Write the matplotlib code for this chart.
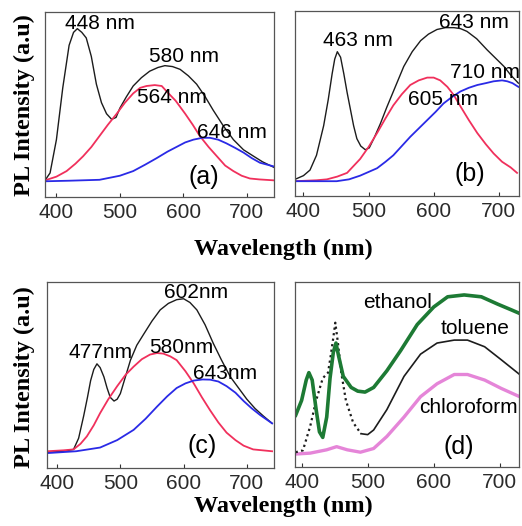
import matplotlib
matplotlib.use("Agg")
import matplotlib.pyplot as plt

# ---- data (wavelength in nm, intensity in a.u.) ----
a_black_wl = [382, 390, 400, 410, 420, 427, 433, 440, 447, 455, 463, 471, 479, 487, 494, 500, 510, 521, 534,
              547, 560, 571, 583, 595, 608, 621, 634, 647, 663, 679, 695, 711, 725, 743]
a_black = [0.09, 0.13, 0.31, 0.59, 0.82, 0.89, 0.91, 0.89, 0.86, 0.76, 0.61, 0.51, 0.45, 0.42, 0.43, 0.48, 0.54,
           0.60, 0.645, 0.68, 0.70, 0.71, 0.705, 0.69, 0.655, 0.61, 0.545, 0.47, 0.385, 0.31, 0.255, 0.22, 0.19, 0.16]
a_red_wl = [382, 400, 416, 430, 442, 455, 468, 481, 495, 508, 521, 532, 542, 555, 566, 574, 588, 603, 615, 626,
            640, 653, 666, 679, 692, 705, 720, 743]
a_red = [0.09, 0.11, 0.14, 0.18, 0.22, 0.27, 0.33, 0.39, 0.45, 0.51, 0.56, 0.59, 0.60, 0.605, 0.60, 0.57, 0.52,
         0.45, 0.39, 0.33, 0.27, 0.22, 0.17, 0.14, 0.115, 0.10, 0.095, 0.09]
a_blue_wl = [382, 420, 468, 500, 521, 540, 558, 575, 589, 603, 616, 630, 642, 655, 668, 682, 695, 708, 721, 743]
a_blue = [0.085, 0.088, 0.093, 0.115, 0.14, 0.175, 0.21, 0.245, 0.27, 0.295, 0.31, 0.32, 0.32, 0.31, 0.29,
          0.265, 0.24, 0.21, 0.185, 0.165]

b_black_wl = [387, 400, 410, 420, 431, 438, 444, 448, 452, 457, 462, 467, 472, 477, 482, 488, 495, 501, 508, 518,
              528, 541, 554, 567, 580, 592, 605, 618, 631, 641, 651, 666, 682, 695, 708, 718, 730]
b_black = [0.09, 0.11, 0.14, 0.22, 0.38, 0.52, 0.66, 0.74, 0.78, 0.75, 0.66, 0.56, 0.47, 0.38, 0.31, 0.27, 0.25,
           0.26, 0.31, 0.39, 0.48, 0.59, 0.70, 0.78, 0.84, 0.875, 0.90, 0.91, 0.91, 0.905, 0.89, 0.85, 0.79, 0.745,
           0.70, 0.655, 0.61]
b_red_wl = [387, 400, 420, 436, 452, 467, 487, 500, 513, 526, 538, 551, 564, 577, 590, 600, 610, 621, 631, 641,
            654, 667, 680, 692, 705, 718, 728]
b_red = [0.08, 0.082, 0.085, 0.09, 0.105, 0.125, 0.20, 0.265, 0.34, 0.42, 0.49, 0.55, 0.60, 0.625, 0.64, 0.64,
         0.625, 0.59, 0.545, 0.485, 0.41, 0.34, 0.28, 0.23, 0.185, 0.155, 0.125]
b_blue_wl = [387, 451, 470, 487, 500, 513, 526, 538, 551, 564, 577, 590, 603, 615, 628, 641, 654, 667, 680, 692,
             705, 713, 721, 730]
b_blue = [0.08, 0.08, 0.09, 0.11, 0.13, 0.15, 0.185, 0.22, 0.27, 0.32, 0.365, 0.41, 0.455, 0.50, 0.535, 0.565,
          0.585, 0.60, 0.61, 0.62, 0.625, 0.62, 0.61, 0.59]

c_black_wl = [384, 410, 426, 434, 442, 448, 453, 458, 463, 468, 474, 479, 484, 490, 495, 500, 508, 516, 526, 537,
              550, 563, 576, 589, 600, 610, 621, 634, 647, 660, 674, 687, 700, 713, 726, 740]
c_black = [0.084, 0.09, 0.10, 0.16, 0.28, 0.38, 0.47, 0.53, 0.56, 0.54, 0.49, 0.43, 0.38, 0.36, 0.37, 0.40, 0.49,
           0.58, 0.66, 0.72, 0.79, 0.85, 0.885, 0.905, 0.91, 0.89, 0.85, 0.77, 0.67, 0.58, 0.49, 0.43, 0.37, 0.32,
           0.28, 0.24]
c_red_wl = [384, 410, 426, 437, 447, 458, 468, 481, 495, 508, 521, 534, 547, 558, 568, 579, 589, 603, 616, 629,
            642, 655, 668, 682, 695, 710, 740]
c_red = [0.09, 0.095, 0.10, 0.13, 0.17, 0.23, 0.295, 0.37, 0.44, 0.50, 0.545, 0.585, 0.61, 0.618, 0.615, 0.60,
         0.58, 0.52, 0.455, 0.38, 0.31, 0.245, 0.19, 0.15, 0.12, 0.10, 0.09]
c_blue_wl = [384, 430, 468, 495, 521, 540, 558, 574, 589, 603, 616, 630, 642, 655, 668, 682, 695, 708, 721, 740]
c_blue = [0.08, 0.09, 0.11, 0.15, 0.205, 0.265, 0.33, 0.385, 0.43, 0.455, 0.47, 0.476, 0.475, 0.465, 0.44, 0.405,
          0.36, 0.32, 0.285, 0.24]

d_eth_wl = [391, 400, 407, 411, 416, 422, 427, 432, 438, 443, 448, 452, 456, 463, 475, 485, 496, 509, 529, 550,
            575, 600, 621, 646, 672, 697, 717, 730]
d_eth = [0.28, 0.36, 0.47, 0.51, 0.47, 0.31, 0.19, 0.16, 0.27, 0.48, 0.62, 0.67, 0.60, 0.49, 0.43, 0.41, 0.405,
         0.43, 0.52, 0.63, 0.77, 0.865, 0.92, 0.93, 0.92, 0.88, 0.85, 0.83]
d_tol_wl = [391, 402, 413, 422, 432, 440, 444, 448, 451, 455, 460, 467, 478, 490, 500, 509, 529, 555, 580, 605,
            631, 651, 677, 702, 730]
d_tol = [0.08, 0.09, 0.22, 0.36, 0.48, 0.51, 0.60, 0.70, 0.78, 0.67, 0.51, 0.36, 0.24, 0.18, 0.175, 0.20, 0.31,
         0.49, 0.61, 0.67, 0.686, 0.686, 0.65, 0.58, 0.50]
d_chl_wl = [391, 413, 438, 453, 469, 489, 509, 529, 555, 580, 605, 631, 651, 677, 702, 730]
d_chl = [0.07, 0.075, 0.093, 0.11, 0.093, 0.08, 0.10, 0.165, 0.27, 0.38, 0.45, 0.50, 0.50, 0.47, 0.425, 0.38]

BLACK = "#1c1c1c"
RED = "#f0305c"
BLUE = "#2a2ae6"
GREEN = "#1d7a34"
PINK = "#e585d8"

plt.rcParams['font.family'] = ['Liberation Sans', 'DejaVu Sans']

fig = plt.figure(figsize=(5.22, 5.26), dpi=100)
W, H = 522.0, 526.0


def make_ax(left, top, right, bottom, xlim):
    ax = fig.add_axes([left / W, 1 - bottom / H, (right - left) / W, (bottom - top) / H])
    ax.set_xlim(*xlim)
    ax.set_ylim(0, 1)
    ax.set_xticks([400, 500, 600, 700])
    ax.set_yticks([])
    ax.tick_params(axis='x', direction='in', length=3, width=0.8, labelsize=15, pad=4, colors='#333333')
    ax.tick_params(axis='x', labelcolor='#2a2a2a')
    for s in ax.spines.values():
        s.set_color('#555555')
        s.set_linewidth(0.9)
    return ax


ax_a = make_ax(45, 12, 274, 197, (382, 743))
ax_b = make_ax(295, 11, 519, 196, (387, 731))
ax_c = make_ax(47, 282, 274, 468, (384, 743))
ax_d = make_ax(295, 282, 519, 467, (390, 729))

# (a)
ax_a.plot(a_black_wl, a_black, color=BLACK, lw=1.0)
ax_a.plot(a_red_wl, a_red, color=RED, lw=1.3)
ax_a.plot(a_blue_wl, a_blue, color=BLUE, lw=1.3)
ax_a.text(468, 0.94, "448 nm", fontsize=15, ha='center', va='center')
ax_a.text(601, 0.76, "580 nm", fontsize=15, ha='center', va='center')
ax_a.text(582, 0.54, "564 nm", fontsize=15, ha='center', va='center')
ax_a.text(677, 0.35, "646 nm", fontsize=15, ha='center', va='center')
ax_a.text(633, 0.11, "(a)", fontsize=18, ha='center', va='center')

# (b)
ax_b.plot(b_black_wl, b_black, color=BLACK, lw=1.0)
ax_b.plot(b_red_wl, b_red, color=RED, lw=1.3)
ax_b.plot(b_blue_wl, b_blue, color=BLUE, lw=1.3)
ax_b.text(483, 0.84, "463 nm", fontsize=15, ha='center', va='center')
ax_b.text(662, 0.94, "643 nm", fontsize=15, ha='center', va='center')
ax_b.text(679, 0.67, "710 nm", fontsize=15, ha='center', va='center')
ax_b.text(615, 0.52, "605 nm", fontsize=15, ha='center', va='center')
ax_b.text(655, 0.12, "(b)", fontsize=18, ha='center', va='center')

# (c)
ax_c.plot(c_black_wl, c_black, color=BLACK, lw=1.0)
ax_c.plot(c_red_wl, c_red, color=RED, lw=1.3)
ax_c.plot(c_blue_wl, c_blue, color=BLUE, lw=1.3)
ax_c.text(620, 0.946, "602nm", fontsize=15, ha='center', va='center')
ax_c.text(468, 0.62, "477nm", fontsize=15, ha='center', va='center')
ax_c.text(596, 0.65, "580nm", fontsize=15, ha='center', va='center')
ax_c.text(665, 0.51, "643nm", fontsize=15, ha='center', va='center')
ax_c.text(630, 0.12, "(c)", fontsize=18, ha='center', va='center')

# (d) - toluene is dotted across the sharp peaks, solid afterwards
ax_d.plot(d_chl_wl, d_chl, color=PINK, lw=2.4)
ax_d.plot(d_tol_wl[:14], d_tol[:14], color=BLACK, lw=1.6, ls=(0, (1, 1.5)))
ax_d.plot(d_tol_wl[13:], d_tol[13:], color=BLACK, lw=1.2)
ax_d.plot(d_eth_wl, d_eth, color=GREEN, lw=2.6)
ax_d.text(545, 0.89, "ethanol", fontsize=15, ha='center', va='center')
ax_d.text(662, 0.75, "toluene", fontsize=15, ha='center', va='center')
ax_d.text(652, 0.32, "chloroform", fontsize=15, ha='center', va='center')
ax_d.text(638, 0.11, "(d)", fontsize=18, ha='center', va='center')

# axis titles
lab = dict(family=['Liberation Serif', 'DejaVu Serif'], fontweight='bold', fontsize=17.5, ha='center', va='center')
fig.text(283 / W, 1 - 249 / H, "Wavelength (nm)", **lab)
fig.text(283 / W, 1 - 506 / H, "Wavelength (nm)", **lab)
fig.text(24 / W, 1 - 105 / H, "PL Intensity (a.u)", rotation=90, **lab)
fig.text(24 / W, 1 - 377 / H, "PL Intensity (a.u)", rotation=90, **lab)

fig.savefig("out.png", dpi=100)
